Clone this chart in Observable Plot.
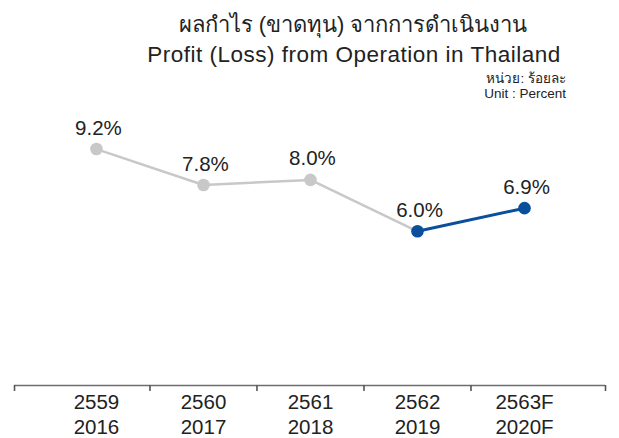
<!DOCTYPE html>
<html>
<head>
<meta charset="utf-8">
<script src="https://cdn.jsdelivr.net/npm/d3@7"></script>
<script src="https://cdn.jsdelivr.net/npm/@observablehq/plot@0.6"></script>
<style>
  html, body { margin: 0; padding: 0; background: #fff; overflow: hidden; }
  #wrap { position: relative; width: 619px; height: 438px; font-family: "Liberation Sans", Arial, Helvetica, sans-serif; color: #222; }
  .t { position: absolute; white-space: nowrap; line-height: 1; }
  #chart { position: absolute; left: 0; top: 0; }
</style>
</head>
<body>
<div id="wrap">
  <div id="chart"></div>
  <div class="t" id="t1" style="left:103px; width:500px; text-align:center; top:14px; font-size:22px;"></div>
  <div class="t" id="t2" style="left:104px; width:500px; text-align:center; top:44px; font-size:22.5px; letter-spacing:0.5px;"></div>
  <div class="t" id="u1" style="right:53px; top:72px; font-size:13.5px;"></div>
  <div class="t" id="u2" style="right:53px; top:87px; font-size:13.5px;"></div>
</div>
<script>
const titleTh = "ผลกำไร (ขาดทุน) จากการดำเนินงาน";
const titleEn = "Profit (Loss) from Operation in Thailand";
const unitTh = "หน่วย: ร้อยละ";
const unitEn = "Unit : Percent";

const beYears = ["2559", "2560", "2561", "2562", "2563F"];
const ceYears = ["2016", "2017", "2018", "2019", "2020F"];
const values = [9.2, 7.8, 8.0, 6.0, 6.9];
const highlighted = [false, false, false, true, true];

document.getElementById("t1").textContent = titleTh;
document.getElementById("t2").textContent = titleEn;
document.getElementById("u1").textContent = unitTh;
document.getElementById("u2").textContent = unitEn;

const data = values.map((v, i) => ({i, value: v, be: beYears[i], ce: ceYears[i], hl: highlighted[i]}));
const firstHl = highlighted.indexOf(true);
const greyData = data.slice(0, firstHl + 1);
const blueData = data.slice(firstHl);

const GREY = "#c8c8c8";
const BLUE = "#0a4f9b";
const xDomain = [-0.766, data.length - 1 + 0.757];
const tickEdges = [xDomain[0], ...data.slice(1).map(d => d.i - 0.5), xDomain[1]];

const chart = Plot.plot({
  width: 619,
  height: 438,
  marginTop: 128,
  marginBottom: 53,
  marginLeft: 14,
  marginRight: 14,
  x: {domain: xDomain, axis: null},
  y: {domain: [0, 10], axis: null},
  style: {fontFamily: "'Liberation Sans', Arial, Helvetica, sans-serif", background: "transparent", color: "#222", overflow: "visible"},
  marks: [
    Plot.ruleY([0], {stroke: "#6e6e6e", strokeWidth: 1.6}),
    Plot.ruleX(tickEdges, {x: d => d, y1: 0, y2: 0, insetBottom: -6, stroke: "#555", strokeWidth: 1.6}),
    Plot.line(greyData, {x: "i", y: "value", stroke: GREY, strokeWidth: 2.5}),
    Plot.line(blueData, {x: "i", y: "value", stroke: BLUE, strokeWidth: 3}),
    Plot.dot(data, {x: "i", y: "value", r: 6.3, fill: d => d.hl ? BLUE : GREY, stroke: null}),
    Plot.text(data, {x: "i", y: "value", text: d => d.value.toFixed(1) + "%", dy: -21, dx: 2, fontSize: 20.5, fill: "#222"}),
    Plot.text(data, {x: "i", frameAnchor: "bottom", text: d => d.be + "\n" + d.ce, lineAnchor: "top", lineHeight: 1.22, dy: 6, fontSize: 20.5, fill: "#222"})
  ]
});
document.getElementById("chart").appendChild(chart);
</script>
</body>
</html>
